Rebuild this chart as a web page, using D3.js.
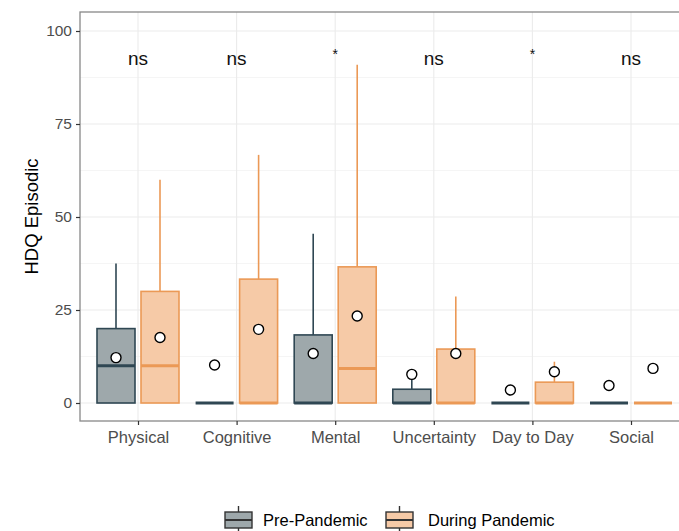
<!DOCTYPE html>
<html><head><meta charset="utf-8">
<script src="https://cdn.jsdelivr.net/npm/d3@7"></script>
<style>body{margin:0;background:#fff}svg{display:block}</style>
</head><body>
<script>
const categories = ["Physical","Cognitive","Mental","Uncertainty","Day to Day","Social"];
const groups = ["Pre-Pandemic","During Pandemic"];
// [lowerWhisker, q1, median, q3, upperWhisker]
const preStats = [[0,0,10,20,37.5],[0,0,0,0,0],[0,0,0,18.3,45.5],[0,0,0,3.7,7.4],[0,0,0,0,0],[0,0,0,0,0]];
const duringStats = [[0,0,10,30,60],[0,0,0,33.3,66.7],[0,0,9.3,36.6,90.9],[0,0,0,14.5,28.6],[0,0,0,5.6,11.1],[0,0,0,0,0]];
const preMeans = [12.2,10.2,13.3,7.7,3.5,4.7];
const duringMeans = [17.6,19.8,23.4,13.3,8.4,9.3];
const sigLabels = ["ns","ns","*","ns","*","ns"];
const yTicks = [0,25,50,75,100];
const sigY = 92.7;

const W=679,H=531;
const svg=d3.select("body").append("svg").attr("width",W).attr("height",H);
const font="Liberation Sans, Arial, Helvetica, sans-serif";
const panel={l:80,t:12,r:690,b:421};
const y=d3.scaleLinear().domain([-5,105]).range([421.6,12.4]);
const x=d3.scaleLinear().domain([0,5]).range([138,631]);
const dx=22, bw=38;
const colors={pre:{fill:"#9ea8ab",stroke:"#2f4753"},dur:{fill:"#f6caa7",stroke:"#eb9956"}};

const g=svg.append("g");
g.append("rect").attr("x",panel.l).attr("y",panel.t).attr("width",panel.r-panel.l).attr("height",panel.b-panel.t).attr("fill","#fff");
// minor grid
const minor=[12.5,37.5,62.5,87.5];
g.selectAll(".mg").data(minor).join("line").attr("x1",panel.l).attr("x2",panel.r)
 .attr("y1",d=>y(d)).attr("y2",d=>y(d)).attr("stroke","#f3f3f3").attr("stroke-width",0.8);
g.selectAll(".gy").data(yTicks).join("line").attr("x1",panel.l).attr("x2",panel.r)
 .attr("y1",d=>y(d)).attr("y2",d=>y(d)).attr("stroke","#ebebeb").attr("stroke-width",1.1);
g.selectAll(".gx").data(categories).join("line").attr("y1",panel.t).attr("y2",panel.b)
 .attr("x1",(d,i)=>x(i)).attr("x2",(d,i)=>x(i)).attr("stroke","#ebebeb").attr("stroke-width",1.1);

function drawBoxes(stats,means,off,c){
  stats.forEach((s,i)=>{
    const cx=x(i)+off;
    // whiskers
    g.append("line").attr("x1",cx).attr("x2",cx).attr("y1",y(s[3])).attr("y2",y(s[4])).attr("stroke",c.stroke).attr("stroke-width",1.6);
    g.append("line").attr("x1",cx).attr("x2",cx).attr("y1",y(s[1])).attr("y2",y(s[0])).attr("stroke",c.stroke).attr("stroke-width",1.6);
    g.append("rect").attr("x",cx-bw/2).attr("y",y(s[3])).attr("width",bw).attr("height",Math.max(0,y(s[1])-y(s[3])))
     .attr("fill",c.fill).attr("stroke",c.stroke).attr("stroke-width",1.6);
    g.append("line").attr("x1",cx-bw/2).attr("x2",cx+bw/2).attr("y1",y(s[2])).attr("y2",y(s[2])).attr("stroke",c.stroke).attr("stroke-width",3);
  });
}
drawBoxes(preStats,preMeans,-dx,colors.pre);
drawBoxes(duringStats,duringMeans,dx,colors.dur);
function drawMeans(means,off){
  g.selectAll(null).data(means).join("circle").attr("cx",(d,i)=>x(i)+off).attr("cy",d=>y(d)).attr("r",5)
   .attr("fill","#fff").attr("stroke","#000").attr("stroke-width",1.4);
}
drawMeans(preMeans,-dx);
drawMeans(duringMeans,dx);

// significance labels
g.selectAll(".sig").data(sigLabels).join("text").attr("x",(d,i)=>x(i)).attr("y",d=>d==="*"?y(sigY)-4:y(sigY))
 .attr("text-anchor","middle").attr("dominant-baseline","central").attr("font-family",font)
 .attr("font-size",d=>d==="*"?14:19).attr("fill","#111").text(d=>d);

// border
g.append("rect").attr("x",panel.l).attr("y",panel.t).attr("width",panel.r-panel.l).attr("height",panel.b-panel.t)
 .attr("fill","none").attr("stroke","#888").attr("stroke-width",1.3);

// axes
const ax=svg.append("g").attr("transform",`translate(0,${panel.b})`)
 .call(d3.axisBottom(x).tickValues(d3.range(6)).tickFormat(i=>categories[i]).tickSize(4).tickPadding(6));
ax.select(".domain").remove();
ax.selectAll("line").attr("stroke","#333").attr("stroke-width",1.2);
ax.selectAll("text").attr("font-family",font).attr("font-size",16.5).attr("fill","#4d4d4d");
const ay=svg.append("g").attr("transform",`translate(${panel.l},0)`)
 .call(d3.axisLeft(y).tickValues(yTicks).tickSize(4).tickPadding(4));
ay.select(".domain").remove();
ay.selectAll("line").attr("stroke","#333").attr("stroke-width",1.2);
ay.selectAll("text").attr("font-family",font).attr("font-size",15.5).attr("fill","#4d4d4d");

svg.append("text").attr("transform",`translate(31,${(panel.t+panel.b)/2}) rotate(-90)`).attr("text-anchor","middle")
 .attr("dominant-baseline","central").attr("font-family",font).attr("font-size",18.5).attr("fill","#000").text("HDQ Episodic");

// legend
const leg=[{x:225,tx:263,c:colors.pre,label:groups[0]},{x:386,tx:428,c:colors.dur,label:groups[1]}];
leg.forEach(l=>{
  const lg=svg.append("g");
  lg.append("line").attr("x1",l.x+13.5).attr("x2",l.x+13.5).attr("y1",506).attr("y2",534).attr("stroke","#333").attr("stroke-width",1.4);
  lg.append("rect").attr("x",l.x).attr("y",512).attr("width",27).attr("height",16).attr("fill",l.c.fill).attr("stroke","#333").attr("stroke-width",1.4);
  lg.append("line").attr("x1",l.x).attr("x2",l.x+27).attr("y1",520).attr("y2",520).attr("stroke","#333").attr("stroke-width",2);
  lg.append("text").attr("x",l.tx).attr("y",520).attr("dominant-baseline","central").attr("font-family",font)
   .attr("font-size",16.5).attr("fill","#000").text(l.label);
});
</script>
</body></html>
